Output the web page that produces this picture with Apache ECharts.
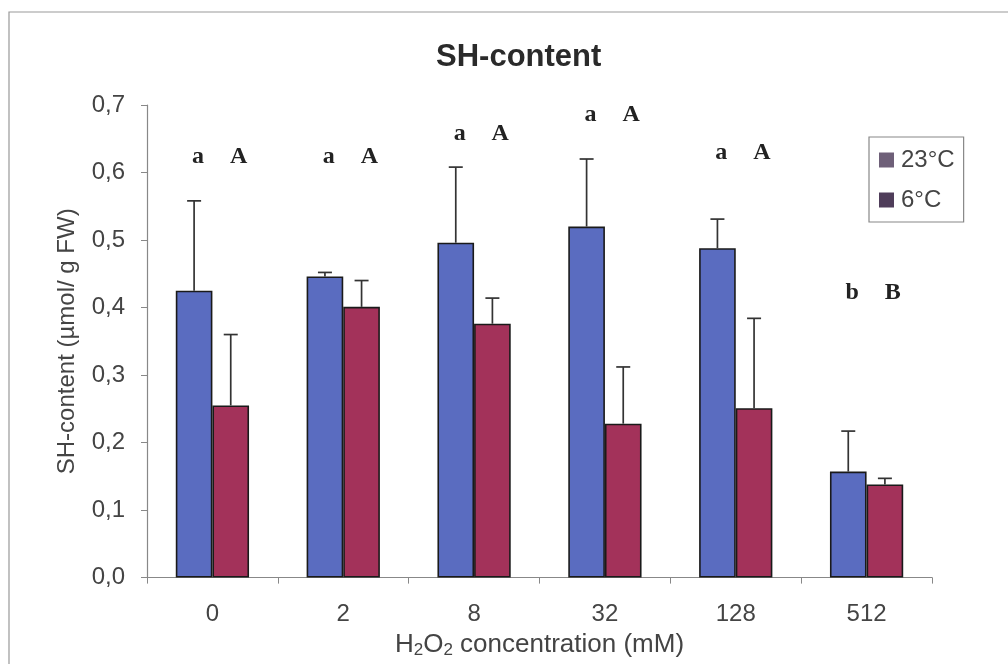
<!DOCTYPE html>
<html><head><meta charset="utf-8">
<script src="https://cdn.jsdelivr.net/npm/echarts@6/dist/echarts.min.js"></script>
<style>html,body{margin:0;padding:0;background:#fff}#c{width:1008px;height:664px}</style>
</head><body><div id="c"></div>
<script>
const categories = ['0', '2', '8', '32', '128', '512'];
const mean23 = [0.425, 0.446, 0.496, 0.520, 0.488, 0.157];
const errTop23 = [0.558, 0.452, 0.608, 0.620, 0.531, 0.217];
const mean6 = [0.255, 0.401, 0.376, 0.228, 0.251, 0.138];
const errTop6 = [0.360, 0.440, 0.414, 0.312, 0.384, 0.147];
const letters23 = ['a', 'a', 'a', 'a', 'a', 'b'];
const letters6 = ['A', 'A', 'A', 'A', 'A', 'B'];
const letterLevel = [0.623, 0.623, 0.658, 0.685, 0.629, 0.422];
const yTicks = [0, 0.1, 0.2, 0.3, 0.4, 0.5, 0.6, 0.7];

const BLUE = '#5a6cc0', RED = '#a3325a';
const FONT = 'Liberation Sans, Arial, sans-serif';
const chart = echarts.init(document.getElementById('c'));

function errSeries(meanArr, topArr, side) {
  return {
    type: 'custom', z: 5, silent: true,
    data: categories.map((c, i) => [i, meanArr[i], topArr[i]]),
    renderItem: function (params, api) {
      const bw = api.size([1, 0])[0];
      const p0 = api.coord([api.value(0), api.value(1)]);
      const p1 = api.coord([api.value(0), api.value(2)]);
      const x = p0[0] + side * bw * 0.14;
      const style = { stroke: '#333', lineWidth: 1.7 };
      return { type: 'group', children: [
        { type: 'line', shape: { x1: x, y1: p0[1], x2: x, y2: p1[1] }, style: style },
        { type: 'line', shape: { x1: x - 7, y1: p1[1], x2: x + 7, y2: p1[1] }, style: style }
      ]};
    }
  };
}

const letterSeries = {
  type: 'custom', z: 6, silent: true,
  data: categories.map((c, i) => [i, letterLevel[i]]),
  renderItem: function (params, api) {
    const i = params.dataIndex;
    const bw = api.size([1, 0])[0];
    const p = api.coord([api.value(0), api.value(1)]);
    const font = 'bold 24px "Liberation Serif", "DejaVu Serif", serif';
    return { type: 'group', children: [
      { type: 'text', style: { x: p[0] - bw * 0.11, y: p[1], text: letters23[i], font: font, fill: '#222', align: 'center', verticalAlign: 'middle' } },
      { type: 'text', style: { x: p[0] + bw * 0.2, y: p[1], text: letters6[i], font: font, fill: '#222', align: 'center', verticalAlign: 'middle' } }
    ]};
  }
};

chart.setOption({
  animation: false,
  backgroundColor: '#fff',
  textStyle: { fontFamily: FONT },
  graphic: [{ type: 'rect', shape: { x: 9, y: 12, width: 1010, height: 660 }, style: { fill: 'none', stroke: '#999', lineWidth: 1.2 } }],
  title: { text: 'SH-content', left: 436, top: 42, padding: 0, textStyle: { fontSize: 31, fontWeight: 'bold', color: '#2a2a2a', fontFamily: FONT } },
  legend: {
    orient: 'vertical', left: 869, top: 137, padding: [11, 9, 10, 10], itemGap: 16,
    borderColor: '#888', borderWidth: 1.2, itemWidth: 15, itemHeight: 15, icon: 'rect',
    textStyle: { fontSize: 24, color: '#444', padding: [0, 0, 0, 2] },
    data: [
      { name: '23°C', itemStyle: { color: '#6e5f78', borderWidth: 0 } },
      { name: '6°C', itemStyle: { color: '#4f3d5a', borderWidth: 0 } }
    ]
  },
  grid: { left: 147, right: 76, top: 105, bottom: 85 },
  xAxis: {
    type: 'category', data: categories,
    name: '{n|H}{s|2}{n|O}{s|2}{n| concentration (mM)}', nameLocation: 'middle', nameGap: 46,
    nameTextStyle: { rich: { n: { fontSize: 26, color: '#444' }, s: { fontSize: 17, color: '#444', verticalAlign: 'bottom', padding: [12, 0, 0, 0] } } },
    axisLine: { lineStyle: { color: '#888', width: 1.2 } },
    axisTick: { show: true, length: 6, alignWithLabel: false, lineStyle: { color: '#888' } },
    axisLabel: { fontSize: 24, color: '#444', margin: 25 }
  },
  yAxis: {
    type: 'value', min: 0, max: 0.7, interval: 0.1,
    name: 'SH-content (µmol/ g FW)', nameLocation: 'middle', nameGap: 68, nameRotate: 90,
    nameTextStyle: { fontSize: 24, color: '#444' },
    axisLine: { show: true, lineStyle: { color: '#888', width: 1.2 } },
    axisTick: { show: true, length: 6, inside: false, lineStyle: { color: '#888' } },
    splitLine: { show: false },
    axisLabel: { fontSize: 24, color: '#444', margin: 22, formatter: v => yTicks.reduce((a, t) => Math.abs(t - v) < 1e-6 ? t : a, v).toFixed(1).replace('.', ',') }
  },
  series: [
    { name: '23°C', type: 'bar', data: mean23, barWidth: '28%', barGap: '0%', itemStyle: { color: BLUE, borderColor: '#1a1a1a', borderWidth: 1.6 } },
    { name: '6°C', type: 'bar', data: mean6, barWidth: '28%', barGap: '0%', itemStyle: { color: RED, borderColor: '#1a1a1a', borderWidth: 1.6 } },
    errSeries(mean23, errTop23, -1),
    errSeries(mean6, errTop6, 1),
    letterSeries
  ]
});
</script></body></html>
